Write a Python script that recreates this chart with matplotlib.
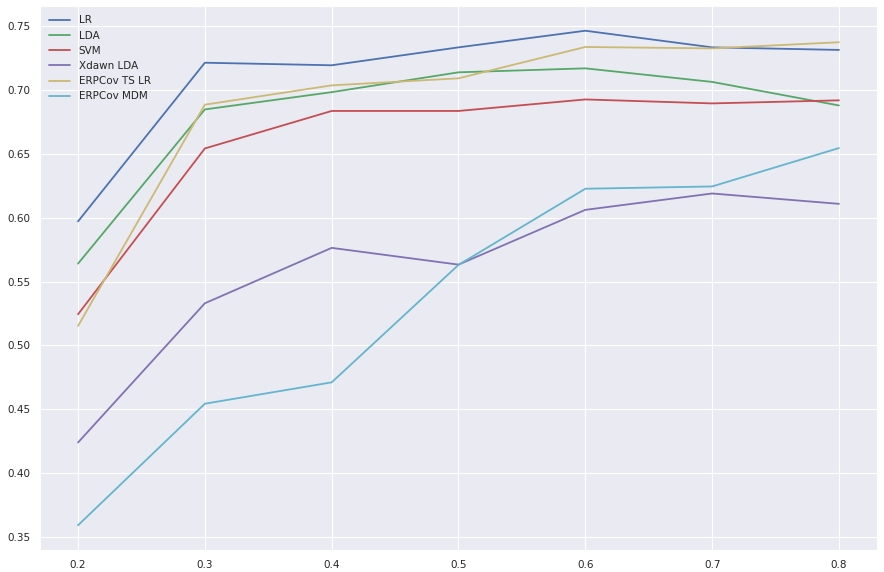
import matplotlib
matplotlib.use("Agg")
import matplotlib.pyplot as plt
import seaborn as sns

# training set fraction
fractions = [0.2, 0.3, 0.4, 0.5, 0.6, 0.7, 0.8]

lr = [0.597, 0.721, 0.719, 0.733, 0.746, 0.733, 0.731]
lda = [0.564, 0.6845, 0.698, 0.7135, 0.7166, 0.706, 0.6876]
svm = [0.5244, 0.654, 0.6833, 0.6833, 0.6923, 0.6892, 0.6916]
xdawn_lda = [0.4242, 0.533, 0.5763, 0.5632, 0.606, 0.6188, 0.6107]
erpcov_ts_lr = [0.5153, 0.6882, 0.7033, 0.7088, 0.7333, 0.7322, 0.737]
erpcov_mdm = [0.3595, 0.4545, 0.4712, 0.563, 0.6225, 0.6243, 0.6543]

labels = ["LR", "LDA", "SVM", "Xdawn LDA", "ERPCov TS LR", "ERPCov MDM"]
series = [lr, lda, svm, xdawn_lda, erpcov_ts_lr, erpcov_mdm]
colors = ["#4C72B0", "#55A868", "#C44E52", "#8172B2", "#CCB974", "#64B5CD"]

sns.set_style("darkgrid")
plt.rcParams["font.family"] = ["DejaVu Sans"]

fig = plt.figure(figsize=(8.84, 5.72), dpi=100)
ax = fig.add_axes([40 / 884, 22 / 572, 837 / 884, 544 / 572])

for vals, lab, col in zip(series, labels, colors):
    ax.plot(fractions, vals, color=col, linewidth=1.3, label=lab)

ax.tick_params(labelsize=7.5, colors="#262626")
ax.legend(loc="upper left", frameon=False, fontsize=7.5, handlelength=2.0,
          labelspacing=0.5, borderaxespad=0.5)

fig.savefig("out.png", dpi=100)
